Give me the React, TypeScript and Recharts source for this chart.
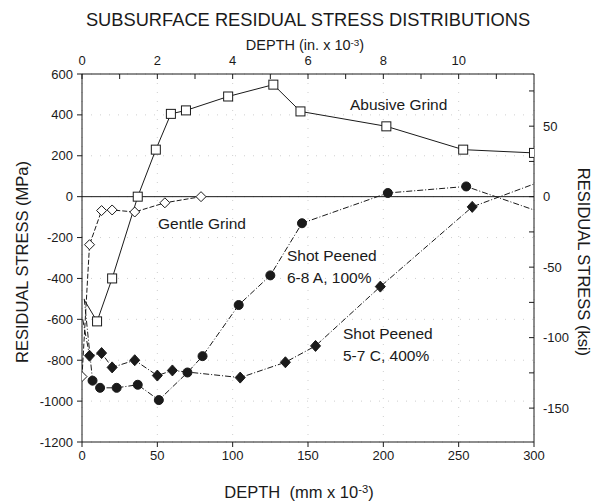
import { LineChart, Line, XAxis, YAxis, ReferenceLine, CartesianGrid } from 'recharts';

// depth in mm x 10^-3, stress in MPa
const abusiveDepth = [1.5, 10, 20, 37, 49, 59, 69, 97, 127, 145, 202, 253, 300];
const abusiveStress = [-505, -610, -400, 0, 230, 405, 422, 490, 548, 417, 344, 230, 214];

const gentleDepth = [0, 5, 13, 20, 35, 55, 79];
const gentleStress = [-880, -235, -68, -65, -75, -30, 0];

const peenADepth = [1.5, 7, 12, 23, 37, 51, 70, 80, 104, 125, 146, 203, 255, 300];
const peenAStress = [-500, -900, -935, -935, -920, -995, -860, -780, -530, -385, -130, 18, 50, -65];

const peenCDepth = [0.5, 5, 13, 20, 35, 50, 60, 105, 135, 155, 198, 259, 300];
const peenCStress = [-600, -778, -765, -835, -800, -875, -850, -885, -810, -730, -440, -50, 62];

const mmTicks = [0, 50, 100, 150, 200, 250, 300];
const inTicks = [0, 1, 2, 3, 4, 5, 6, 7, 8, 9, 10, 11];
const mpaTicks = [600, 400, 200, 0, -200, -400, -600, -800, -1000, -1200];
const ksiTicks = [75, 50, 25, 0, -25, -50, -75, -100, -125, -150];

const MPA_PER_KSI = 6.895;
const MM_PER_IN = 25.4;

const font = '"Liberation Sans", Arial, sans-serif';
const ink = '#1a1a1a';

const toRows = (xs: number[], ys: number[]) => xs.map((d, i) => ({ depth: d, stress: ys[i] }));

const abusiveData = toRows(abusiveDepth, abusiveStress);
const gentleData = toRows(gentleDepth, gentleStress);
const peenAData = toRows(peenADepth, peenAStress);
const peenCData = toRows(peenCDepth, peenCStress);

const BottomTick = (p: any) => (
  <g>
    <line x1={p.x} y1={p.y} x2={p.x} y2={p.y + 5} stroke={ink} />
    <text x={p.x} y={p.y + 18} textAnchor="middle" fontSize={13} fontFamily={font} fill={ink}>
      {p.payload.value}
    </text>
  </g>
);

const TopTick = (p: any) => (
  <g>
    <line x1={p.x} y1={p.y} x2={p.x} y2={p.y + 5} stroke={ink} />
    {p.payload.value % 2 === 0 && (
      <text x={p.x} y={p.y - 9} textAnchor="middle" fontSize={13} fontFamily={font} fill={ink}>
        {p.payload.value}
      </text>
    )}
  </g>
);

const LeftTick = (p: any) => (
  <g>
    <line x1={p.x - 5} y1={p.y} x2={p.x} y2={p.y} stroke={ink} />
    <text x={p.x - 9} y={p.y + 4.5} textAnchor="end" fontSize={13} fontFamily={font} fill={ink}>
      {p.payload.value}
    </text>
  </g>
);

const RightTick = (p: any) => (
  <g>
    <line x1={p.x - 5} y1={p.y} x2={p.x} y2={p.y} stroke={ink} />
    {p.payload.value % 50 === 0 && (
      <text x={p.x + 9} y={p.y + 4.5} textAnchor="start" fontSize={13} fontFamily={font} fill={ink}>
        {p.payload.value}
      </text>
    )}
  </g>
);

const makeDot = (shape: string, hidden: number[]) => (p: any) => {
  const { cx, cy, index } = p;
  if (hidden.includes(index) || cx == null || cy == null) return <g key={index} />;
  if (shape === 'square')
    return <rect key={index} x={cx - 4.5} y={cy - 4.5} width={9} height={9} fill="#fff" stroke={ink} strokeWidth={1} />;
  if (shape === 'diamond')
    return (
      <polygon key={index} points={`${cx},${cy - 5} ${cx + 5},${cy} ${cx},${cy + 5} ${cx - 5},${cy}`} fill="#fff" stroke={ink} strokeWidth={1} />
    );
  if (shape === 'fdiamond')
    return (
      <polygon key={index} points={`${cx},${cy - 5.5} ${cx + 5},${cy} ${cx},${cy + 5.5} ${cx - 5},${cy}`} fill={ink} stroke={ink} />
    );
  return <circle key={index} cx={cx} cy={cy} r={4.5} fill={ink} stroke={ink} />;
};

const labelStyle: React.CSSProperties = {
  position: 'absolute',
  fontFamily: font,
  color: ink,
  whiteSpace: 'nowrap',
  lineHeight: 1,
};

const supStyle: React.CSSProperties = { position: 'relative', top: '-0.45em', fontSize: '0.68em', lineHeight: 0 };

export default function App() {
  return (
    <div style={{ position: 'absolute', left: 0, top: 0, width: 598, height: 502, background: '#fff' }}>
      <LineChart width={598} height={502} data={abusiveData} margin={{ top: 0, right: 0, bottom: 0, left: 0 }}>
        <CartesianGrid stroke="#cfcfcf" strokeDasharray="1 8" xAxisId="mm" yAxisId="mpa" />
        <XAxis
          xAxisId="mm"
          type="number"
          dataKey="depth"
          domain={[0, 300]}
          ticks={mmTicks}
          height={60}
          stroke={ink}
          tickLine={false}
          tickSize={0}
          tickMargin={0}
          tick={BottomTick}
          allowDataOverflow
        />
        <XAxis
          xAxisId="in"
          orientation="top"
          type="number"
          domain={[0, 300 / MM_PER_IN]}
          ticks={inTicks}
          height={74}
          stroke={ink}
          tickLine={false}
          tickSize={0}
          tickMargin={0}
          tick={TopTick}
          allowDataOverflow
        />
        <YAxis
          yAxisId="mpa"
          type="number"
          domain={[-1200, 600]}
          ticks={mpaTicks}
          width={82}
          stroke={ink}
          tickLine={false}
          tickSize={0}
          tickMargin={0}
          tick={LeftTick}
          allowDataOverflow
        />
        <YAxis
          yAxisId="ksi"
          orientation="right"
          type="number"
          domain={[-1200 / MPA_PER_KSI, 600 / MPA_PER_KSI]}
          ticks={ksiTicks}
          width={64}
          stroke={ink}
          tickLine={false}
          tickSize={0}
          tickMargin={0}
          tick={RightTick}
          allowDataOverflow
        />
        <ReferenceLine y={0} xAxisId="mm" yAxisId="mpa" stroke={ink} strokeWidth={1} />
        <Line
          xAxisId="mm"
          yAxisId="mpa"
          data={abusiveData}
          dataKey="stress"
          stroke={ink}
          strokeWidth={1}
          dot={makeDot('square', [0])}
          isAnimationActive={false}
        />
        <Line
          xAxisId="mm"
          yAxisId="mpa"
          data={gentleData}
          dataKey="stress"
          stroke={ink}
          strokeWidth={1}
          strokeDasharray="5 2"
          dot={makeDot('diamond', [])}
          isAnimationActive={false}
        />
        <Line
          xAxisId="mm"
          yAxisId="mpa"
          data={peenAData}
          dataKey="stress"
          stroke={ink}
          strokeWidth={1}
          strokeDasharray="6 2 1 2"
          dot={makeDot('circle', [0, 13])}
          isAnimationActive={false}
        />
        <Line
          xAxisId="mm"
          yAxisId="mpa"
          data={peenCData}
          dataKey="stress"
          stroke={ink}
          strokeWidth={1}
          strokeDasharray="6 2 1 2"
          dot={makeDot('fdiamond', [0, 12])}
          isAnimationActive={false}
        />
      </LineChart>

      <div style={{ ...labelStyle, left: 0, width: 598, top: 11, textAlign: 'center', fontSize: 18.3, paddingLeft: 18, boxSizing: 'border-box' }}>
        SUBSURFACE RESIDUAL STRESS DISTRIBUTIONS
      </div>
      <div style={{ ...labelStyle, left: 0, width: 598, top: 38, textAlign: 'center', fontSize: 14.5, paddingLeft: 12, boxSizing: 'border-box' }}>
        DEPTH (in. x 10<span style={supStyle}>-3</span>)
      </div>
      <div style={{ ...labelStyle, left: 0, width: 598, top: 484, textAlign: 'center', fontSize: 16.5, paddingLeft: 0, boxSizing: 'border-box' }}>
        DEPTH&nbsp; (mm x 10<span style={supStyle}>-3</span>)
      </div>
      <div
        style={{
          ...labelStyle,
          left: 22,
          top: 262,
          fontSize: 16.5,
          transform: 'translate(-50%, -50%) rotate(-90deg)',
        }}
      >
        RESIDUAL STRESS (MPa)
      </div>
      <div
        style={{
          ...labelStyle,
          left: 584,
          top: 262,
          fontSize: 16.5,
          transform: 'translate(-50%, -50%) rotate(90deg)',
        }}
      >
        RESIDUAL STRESS (ksi)
      </div>

      <div style={{ ...labelStyle, left: 350, top: 97, fontSize: 15.5 }}>Abusive Grind</div>
      <div style={{ ...labelStyle, left: 158, top: 216, fontSize: 15.5 }}>Gentle Grind</div>
      <div style={{ ...labelStyle, left: 287, top: 245, fontSize: 15.5, lineHeight: '22px' }}>
        Shot Peened
        <br />
        6-8 A, 100%
      </div>
      <div style={{ ...labelStyle, left: 343, top: 323, fontSize: 15.5, lineHeight: '22px' }}>
        Shot Peened
        <br />
        5-7 C, 400%
      </div>
    </div>
  );
}
